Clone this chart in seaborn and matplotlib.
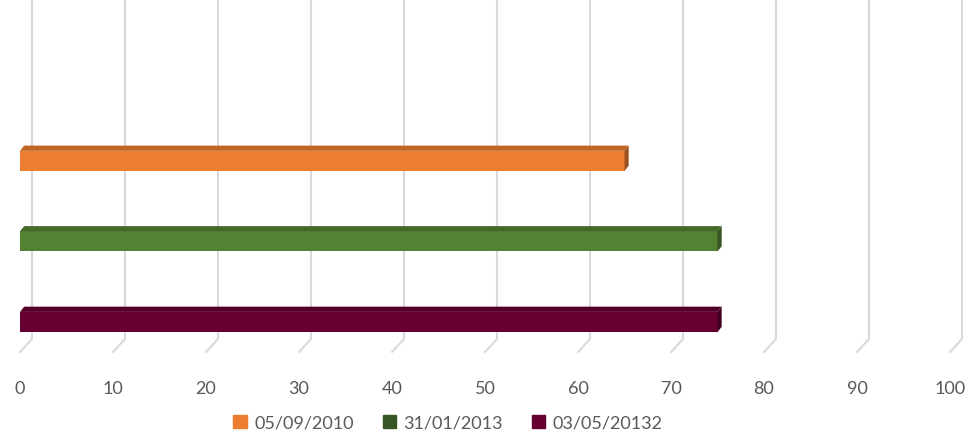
import numpy as np
import pandas as pd
import matplotlib
matplotlib.use('Agg')
import matplotlib.pyplot as plt
import seaborn as sns
from matplotlib.patches import Polygon
from matplotlib.colors import to_rgb

# data
dates = ['05/09/2010', '31/01/2013', '03/05/20132']
values = [65, 75, 75]
colors = ['#ED7D31', '#548235', '#660033']
ticks = [0, 10, 20, 30, 40, 50, 60, 70, 80, 90, 100]

df = pd.DataFrame({'date': dates, 'value': values})

sns.set_style('white')
plt.rcParams['font.family'] = ['Lato', 'DejaVu Sans']

fig = plt.figure(figsize=(9.68, 4.39), dpi=100)
ax = fig.add_axes([20 / 968, (439 - 353) / 439, 930 / 968, 353 / 439])

sns.barplot(data=df, x='value', y='date', hue='date', palette=colors,
            orient='h', width=0.25, ax=ax, legend=False, zorder=3,
            saturation=1, linewidth=0)

ax.set_xlim(0, 100)
ax.set_ylim(2.373, -2.01)

# perspective gridlines: back wall + short slanted floor line
back = 12 / 9.3
knee = (353 - 340) / 353
for t in ticks:
    ax.plot([t + back, t + back, t], [1, knee, 0], color='#d9d9d9', lw=1.5,
            transform=ax.get_xaxis_transform(), zorder=1, clip_on=False)

# fake 3D faces on the bars
dx, dy = 0.45, 0.065
for bar in ax.patches:
    x0, y0 = bar.get_x(), bar.get_y()
    w, h = bar.get_width(), bar.get_height()
    c = np.array(to_rgb(bar.get_facecolor()))
    top = c * 0.82
    side = c * 0.65
    x1 = x0 + w
    ax.add_patch(Polygon([(x0, y0), (x0 + dx, y0 - dy), (x1 + dx, y0 - dy), (x1, y0)],
                         closed=True, facecolor=top, edgecolor='none', zorder=3))
    ax.add_patch(Polygon([(x1, y0), (x1 + dx, y0 - dy), (x1 + dx, y0 + h - dy), (x1, y0 + h)],
                         closed=True, facecolor=side, edgecolor='none', zorder=3))

ax.set_xticks(ticks)
ax.set_xticklabels([str(t) for t in ticks], color='#595959', fontsize=13)
ax.tick_params(axis='x', length=0, pad=20)
ax.set_yticks([])
ax.set_xlabel('')
ax.set_ylabel('')
sns.despine(ax=ax, left=True, bottom=True)

handles = [plt.Rectangle((0, 0), 1, 1, color=c) for c in ['#ED7D31', '#375623', '#660033']]
fig.legend(handles, dates, loc='center', bbox_to_anchor=(448 / 968, 0.035), ncol=3,
           frameon=False, fontsize=13, handlelength=0.75, handleheight=0.75,
           handletextpad=0.4, columnspacing=1.6, labelcolor='#595959')

fig.savefig('out.png', dpi=100)
